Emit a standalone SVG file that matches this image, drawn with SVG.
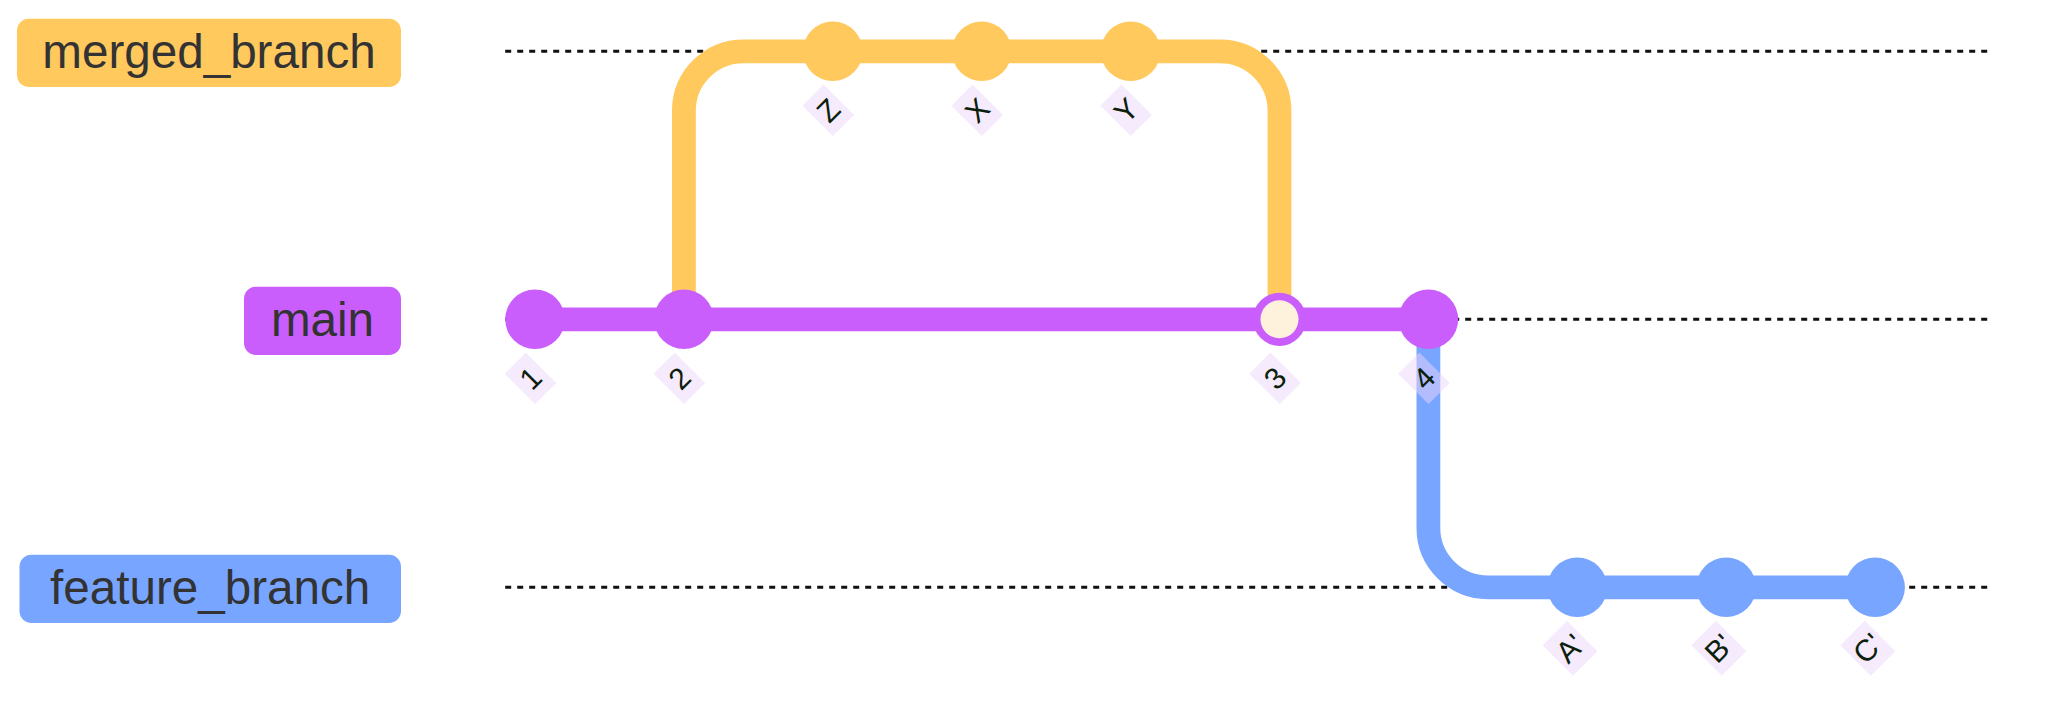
<svg xmlns="http://www.w3.org/2000/svg" width="2048" height="719" viewBox="0 0 2048 719">
<style>
.lane{stroke:#111;stroke-width:3;stroke-dasharray:6;fill:none}
.arrow{fill:none;stroke-width:23.8;stroke-linecap:butt}
.bl{font-family:"Liberation Sans",Arial,sans-serif;font-size:47.6px;fill:#333;text-anchor:middle}
.cl-bg{fill:#EDD6FB;opacity:0.5}
.cl{font-family:"Liberation Sans",Arial,sans-serif;font-size:30px;fill:#0B200B;text-anchor:middle;dominant-baseline:central}
.c-m{fill:#FFC95E}
.c-p{fill:#C95EFD}
.c-b{fill:#78A5FF}
</style>
<rect width="2048" height="719" fill="#ffffff"/>

<g id="lanes">
<line class="lane" x1="505.2" y1="51.3" x2="1988.3" y2="51.3"/>
<line class="lane" x1="505.2" y1="319.3" x2="1988.3" y2="319.3"/>
<line class="lane" x1="505.2" y1="587.3" x2="1988.3" y2="587.3"/>
</g>

<g id="branch-merged_branch">
<rect x="17" y="18.7" width="384" height="68.3" rx="11.9" class="c-m"/>
<text class="bl" x="209" y="68.1">merged_branch</text>
</g>
<g id="branch-main">
<rect x="244" y="286.7" width="157" height="68.3" rx="11.9" class="c-p"/>
<text class="bl" x="322.5" y="336.1">main</text>
</g>
<g id="branch-feature_branch">
<rect x="19.5" y="554.7" width="381.5" height="68.3" rx="11.9" class="c-b"/>
<text class="bl" x="210.2" y="604.1">feature_branch</text>
</g>

<g id="connectors">
<path class="arrow" stroke="#C95EFD" d="M535,319.3 H1428.4"/>
<path class="arrow" stroke="#FFC95E" d="M683.9,319.3 V110.9 A59.6,59.6 0 0 1 743.5,51.3 H1219.9 A59.6,59.6 0 0 1 1279.5,110.9 V319.3"/>
<path class="arrow" stroke="#78A5FF" d="M1428.4,319.3 V527.7 A59.6,59.6 0 0 0 1488,587.3 H1875.1"/>
</g>

<g id="commit-1"><circle cx="535" cy="319.3" r="29.8" class="c-p"/></g>
<g id="commit-2"><circle cx="683.9" cy="319.3" r="29.8" class="c-p"/></g>
<g id="commit-Z"><circle cx="832.8" cy="51.3" r="29.8" class="c-m"/></g>
<g id="commit-X"><circle cx="981.7" cy="51.3" r="29.8" class="c-m"/></g>
<g id="commit-Y"><circle cx="1130.6" cy="51.3" r="29.8" class="c-m"/></g>
<g id="commit-3"><circle cx="1279.5" cy="319.3" r="26.6" class="c-p"/><circle cx="1279.5" cy="319.3" r="19" fill="#FFF2DD"/></g>
<g id="commit-4"><circle cx="1428.4" cy="319.3" r="29.8" class="c-p"/></g>
<g id="commit-A'"><circle cx="1577.3" cy="587.3" r="29.8" class="c-b"/></g>
<g id="commit-B'"><circle cx="1726.2" cy="587.3" r="29.8" class="c-b"/></g>
<g id="commit-C'"><circle cx="1875.1" cy="587.3" r="29.8" class="c-b"/></g>

<g id="commit-labels">
<g id="label-1" transform="translate(530.5,378.3) rotate(-45)"><rect class="cl-bg" x="-15" y="-21.5" width="30" height="43"/><text class="cl" x="0" y="0">1</text></g>
<g id="label-2" transform="translate(679.4,378.3) rotate(-45)"><rect class="cl-bg" x="-15" y="-21.5" width="30" height="43"/><text class="cl" x="0" y="0">2</text></g>
<g id="label-Z" transform="translate(828.3,110.3) rotate(-45)"><rect class="cl-bg" x="-15" y="-21.5" width="30" height="43"/><text class="cl" x="0" y="0">Z</text></g>
<g id="label-X" transform="translate(977.2,110.3) rotate(-45)"><rect class="cl-bg" x="-15" y="-21.5" width="30" height="43"/><text class="cl" x="0" y="0">X</text></g>
<g id="label-Y" transform="translate(1126.1,110.3) rotate(-45)"><rect class="cl-bg" x="-15" y="-21.5" width="30" height="43"/><text class="cl" x="0" y="0">Y</text></g>
<g id="label-3" transform="translate(1275,378.3) rotate(-45)"><rect class="cl-bg" x="-15" y="-21.5" width="30" height="43"/><text class="cl" x="0" y="0">3</text></g>
<g id="label-4" transform="translate(1423.9,378.3) rotate(-45)"><rect class="cl-bg" x="-15" y="-21.5" width="30" height="43"/><text class="cl" x="0" y="0">4</text></g>
<g id="label-A'" transform="translate(1570,648.3) rotate(-45)"><rect class="cl-bg" x="-17.3" y="-21.5" width="34.6" height="43"/><text class="cl" x="0" y="0">A'</text></g>
<g id="label-B'" transform="translate(1718.9,648.3) rotate(-45)"><rect class="cl-bg" x="-17.3" y="-21.5" width="34.6" height="43"/><text class="cl" x="0" y="0">B'</text></g>
<g id="label-C'" transform="translate(1867.8,648.3) rotate(-45)"><rect class="cl-bg" x="-17.3" y="-21.5" width="34.6" height="43"/><text class="cl" x="0" y="0">C'</text></g>
</g>
</svg>
